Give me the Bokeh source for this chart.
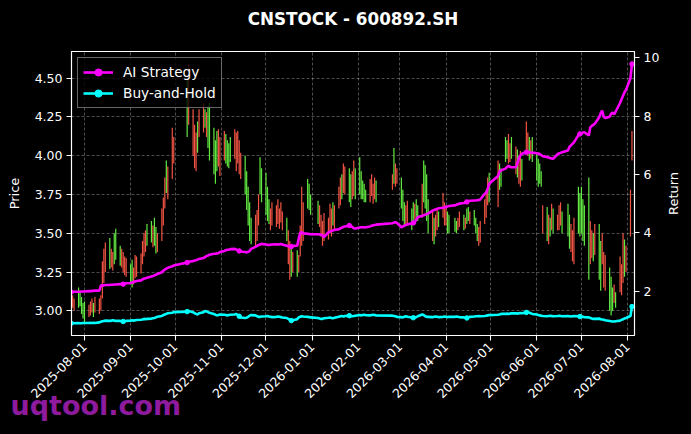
import math
import pandas as pd
from bokeh.plotting import figure
from bokeh.models import (Range1d, LinearAxis, FixedTicker, DatetimeTickFormatter, Title, Label,
                          NumeralTickFormatter, Legend, LegendItem, ColumnDataSource)
from bokeh.embed import file_html
from bokeh.resources import INLINE

TITLE = "CNSTOCK - 600892.SH"
WATERMARK = "uqtool.com"
START, END = "2025-07-23", "2026-08-04"
HOLIDAYS = ["2025-10-01", "2025-10-02", "2025-10-03", "2025-10-06", "2025-10-07", "2025-10-08",
            "2026-01-01", "2026-01-02", "2026-02-16", "2026-02-17", "2026-02-18", "2026-02-19",
            "2026-02-20", "2026-02-23", "2026-04-06", "2026-05-01", "2026-05-04", "2026-05-05",
            "2026-06-19"]
XTICKS = ["2025-08-01", "2025-09-01", "2025-10-01", "2025-11-01", "2025-12-01", "2026-01-01",
          "2026-02-01", "2026-03-01", "2026-04-01", "2026-05-01", "2026-06-01", "2026-07-01",
          "2026-08-01"]
PRICE_TICKS = [3.00, 3.25, 3.50, 3.75, 4.00, 4.25, 4.50]
RETURN_TICKS = [2, 4, 6, 8, 10]

# daily candle highs / lows (one per trading day), month by month
HIGH = [
    3.12, 3.10, 3.08, 3.15, 3.13, 3.09, 3.05,
    3.06, 3.04, 3.06, 3.08, 3.05, 3.09, 3.08, 3.10, 3.32, 3.40, 3.44, 3.47, 3.40, 3.38, 3.50, 3.53, 3.42, 3.40, 3.38, 3.35, 3.34,
    3.30, 3.33, 3.28, 3.36, 3.35, 3.37, 3.45, 3.50, 3.52, 3.56, 3.58, 3.55, 3.60, 3.54, 3.50, 3.66, 3.73, 3.86, 3.97, 3.93, 4.18, 4.12,
    4.50, 4.59, 4.30, 4.20, 4.15, 4.22, 4.30, 4.34, 4.30, 4.28, 4.32, 4.34, 4.18, 4.10, 4.16, 4.17, 4.12,
    4.16, 4.14, 4.10, 4.08, 4.12, 4.17, 4.15, 4.16, 4.10, 4.02, 4.00, 3.90, 3.80, 3.70, 3.60, 3.62, 3.65, 3.75, 3.99, 3.92,
    3.89, 3.80, 3.72, 3.66, 3.70, 3.68, 3.72, 3.66, 3.70, 3.64, 3.60, 3.52, 3.45, 3.40, 3.38, 3.39, 3.36, 3.55, 3.80, 3.70, 3.85, 3.82, 3.75,
    3.71, 3.68, 3.62, 3.58, 3.63, 3.60, 3.69, 3.66, 3.70, 3.68, 3.80, 3.86, 3.88, 3.95, 3.93, 3.92, 3.88, 3.90, 3.97, 3.92,
    3.99, 3.90, 3.84, 3.82, 3.78, 3.85, 3.88, 3.82, 3.86, 3.84, 3.88, 4.05, 3.95, 3.92,
    3.86, 3.78, 3.70, 3.68, 3.71, 3.66, 3.70, 3.69, 3.72, 3.68, 3.82, 3.97, 3.94, 3.88, 3.72, 3.65, 3.60, 3.62, 3.66, 3.64, 3.76, 3.70,
    3.68, 3.64, 3.62, 3.60, 3.58, 3.60, 3.64, 3.62, 3.60, 3.66, 3.67, 3.64, 3.65, 3.60, 3.56, 3.54, 3.58, 3.72, 3.78, 3.86, 3.89,
    3.97, 3.95, 3.92, 4.12, 4.10, 4.14, 4.08, 4.12, 4.06, 4.04, 4.00, 4.03, 3.98, 4.22, 4.15, 4.12, 4.10, 4.12,
    4.01, 3.98, 3.95, 3.90, 3.68, 3.67, 3.62, 3.60, 3.69, 3.66, 3.62, 3.68, 3.70, 3.64, 3.69, 3.62, 3.56, 3.52, 3.60, 3.80, 3.76,
    3.80, 3.72, 3.68, 3.86, 3.58, 3.52, 3.50, 3.56, 3.56, 3.45, 3.50, 3.38, 3.36, 3.28, 3.22, 3.15, 3.17, 3.12, 3.35, 3.30, 3.50, 3.46, 3.42,
    3.78, 4.16,
]
LOW = [
    3.04, 3.02, 3.00, 3.02, 3.03, 2.98, 2.95,
    2.92, 2.96, 2.97, 2.99, 2.96, 2.99, 2.98, 3.00, 3.08, 3.18, 3.25, 3.27, 3.28, 3.26, 3.30, 3.33, 3.29, 3.28, 3.25, 3.23, 3.22,
    3.18, 3.15, 3.17, 3.21, 3.22, 3.24, 3.30, 3.35, 3.38, 3.42, 3.44, 3.41, 3.42, 3.37, 3.38, 3.45, 3.55, 3.66, 3.76, 3.72, 3.85, 3.95,
    4.12, 4.20, 4.00, 3.92, 3.90, 4.02, 4.12, 4.15, 4.18, 4.12, 4.05, 3.97, 3.88, 3.82, 3.90, 3.93, 3.87,
    3.97, 3.95, 3.93, 3.92, 3.96, 3.98, 3.90, 3.95, 3.88, 3.85, 3.75, 3.65, 3.55, 3.45, 3.43, 3.41, 3.45, 3.55, 3.75, 3.70,
    3.62, 3.58, 3.56, 3.52, 3.55, 3.54, 3.56, 3.53, 3.57, 3.52, 3.45, 3.30, 3.20, 3.22, 3.25, 3.22, 3.25, 3.35, 3.42, 3.45, 3.66, 3.65, 3.62,
    3.56, 3.54, 3.48, 3.42, 3.45, 3.46, 3.50, 3.48, 3.55, 3.52, 3.66, 3.68, 3.72, 3.76, 3.75, 3.70, 3.67, 3.72, 3.74, 3.72,
    3.75, 3.72, 3.72, 3.70, 3.70, 3.70, 3.74, 3.69, 3.72, 3.70, 3.78, 3.82, 3.80, 3.82,
    3.66, 3.58, 3.54, 3.55, 3.56, 3.52, 3.58, 3.59, 3.60, 3.58, 3.60, 3.70, 3.66, 3.58, 3.50, 3.45, 3.43, 3.48, 3.52, 3.54, 3.60, 3.55,
    3.55, 3.50, 3.50, 3.51, 3.50, 3.52, 3.54, 3.52, 3.53, 3.56, 3.58, 3.56, 3.55, 3.50, 3.45, 3.42, 3.44, 3.56, 3.60, 3.68, 3.70,
    3.67, 3.78, 3.80, 3.96, 3.98, 3.95, 3.96, 3.98, 3.88, 3.86, 3.82, 3.80, 3.84, 4.03, 4.00, 3.97, 3.98, 3.96,
    3.84, 3.80, 3.82, 3.80, 3.50, 3.45, 3.43, 3.48, 3.52, 3.50, 3.52, 3.52, 3.55, 3.50, 3.48, 3.40, 3.38, 3.32, 3.30, 3.50, 3.48,
    3.50, 3.45, 3.42, 3.20, 3.30, 3.34, 3.32, 3.36, 3.20, 3.13, 3.30, 3.15, 3.13, 3.00, 2.97, 3.00, 3.05, 3.02, 3.12, 3.10, 3.18, 3.22, 3.25,
    3.48, 3.97,
]
# candle colour per trading day: g = green, r = red
CANDLE_COLOR = ("rrrgggg"
                "grrrgrrrrrrgrrgggrrrr"
                "ggrrrrrrrggrggrrrrgrrr"
                "grrrrgrrgrgggggrr"
                "rggggrrrrrgggggrrrgg"
                "gggrrrrrrrgrrgrgrrrrggg"
                "grrrrrrrgrrrgrrggrrg"
                "gggggrrrrgrgrr"
                "gggrrggrggrggggrgrrgrr"
                "rggggrrgrggrgggrrrrrg"
                "rggggrrgrgrrgrrgrg"
                "ggggrgrgrgrrrgggrrrgg"
                "ggggrrgrggrrrgggrgrrrgr"
                "rr")

# strategy curves (one value per trading day)
AI_RETURN = [
    1.97, 1.97, 1.98, 1.98, 1.98, 1.99, 1.99,
    1.99, 2.00, 2.00, 2.01, 2.01, 2.02, 2.02, 2.19, 2.20, 2.20, 2.21, 2.21, 2.22, 2.22, 2.23, 2.23, 2.24, 2.25, 2.24, 2.26, 2.27,
    2.28, 2.30, 2.31, 2.33, 2.35, 2.37, 2.40, 2.43, 2.44, 2.46, 2.50, 2.52, 2.54, 2.56, 2.59, 2.65, 2.70, 2.74, 2.77, 2.80, 2.85, 2.88,
    2.98, 3.01, 3.03, 3.05, 3.06, 3.08, 3.10, 3.14, 3.17, 3.20, 3.22, 3.25, 3.28, 3.28, 3.29, 3.30, 3.34,
    3.38, 3.40, 3.42, 3.42, 3.44, 3.45, 3.43, 3.40, 3.38, 3.36, 3.34, 3.33, 3.35, 3.38, 3.45, 3.52, 3.55, 3.58, 3.60, 3.62,
    3.60, 3.59, 3.58, 3.59, 3.60, 3.61, 3.60, 3.61, 3.62, 3.60, 3.56, 3.54, 3.52, 3.53, 3.55, 3.56, 3.80, 4.00, 4.02, 3.98, 3.97, 3.96, 3.95,
    3.95, 3.94, 3.93, 3.92, 3.85, 4.02, 4.04, 4.06, 4.08, 4.10, 4.12, 4.15, 4.18, 4.20, 4.22, 4.25, 4.24, 4.20, 4.16, 4.15,
    4.18, 4.19, 4.19, 4.18, 4.19, 4.22, 4.24, 4.26, 4.27, 4.28, 4.33, 4.35, 4.36, 4.34,
    4.19, 4.22, 4.25, 4.27, 4.29, 4.32, 4.34, 4.36, 4.45, 4.54, 4.58, 4.60, 4.62, 4.64, 4.66, 4.76, 4.78, 4.80, 4.82, 4.84, 4.86, 4.88,
    4.88, 4.90, 4.92, 4.94, 4.96, 4.98, 5.00, 5.02, 5.05, 5.06, 5.08, 5.10, 5.11, 5.11, 5.12, 5.12, 5.14, 5.34, 5.36, 5.50, 5.68,
    5.95, 6.10, 6.14, 6.20, 6.25, 6.30, 6.26, 6.25, 6.25, 6.40, 6.55, 6.65, 6.71, 6.76, 6.78, 6.76, 6.74, 6.75,
    6.73, 6.72, 6.70, 6.66, 6.63, 6.60, 6.58, 6.56, 6.55, 6.54, 6.70, 6.72, 6.74, 6.76, 6.82, 6.95, 7.00, 7.05, 7.10, 7.35, 7.39,
    7.40, 7.44, 7.45, 7.34, 7.62, 7.66, 7.70, 7.74, 7.96, 8.10, 8.19, 7.98, 7.94, 7.98, 8.08, 8.12, 8.06, 8.15, 8.45, 8.58, 8.70, 8.82, 8.90,
    9.30, 9.79,
]
BH_RETURN = [
    0.90, 0.91, 0.90, 0.91, 0.90, 0.90, 0.91,
    0.91, 0.91, 0.92, 0.91, 0.92, 0.91, 0.93, 0.95, 0.97, 0.98, 0.99, 0.98, 0.99, 1.00, 0.99, 0.98, 0.98, 0.97, 0.96, 0.97, 0.98,
    0.99, 1.00, 0.99, 1.00, 1.01, 1.02, 1.03, 1.05, 1.04, 1.05, 1.06, 1.07, 1.08, 1.10, 1.12, 1.15, 1.18, 1.20, 1.22, 1.24, 1.26, 1.28,
    1.30, 1.32, 1.28, 1.24, 1.22, 1.20, 1.24, 1.28, 1.32, 1.30, 1.28, 1.26, 1.22, 1.19, 1.17, 1.18, 1.20,
    1.19, 1.18, 1.17, 1.18, 1.19, 1.20, 1.22, 1.18, 1.14, 1.10, 1.08, 1.09, 1.12, 1.16, 1.18, 1.17, 1.14, 1.12, 1.12, 1.13,
    1.14, 1.15, 1.13, 1.12, 1.11, 1.12, 1.13, 1.12, 1.11, 1.10, 1.08, 1.05, 1.02, 0.99, 1.00, 1.04, 1.10, 1.12, 1.14, 1.13, 1.12, 1.11, 1.10,
    1.08, 1.06, 1.05, 1.05, 1.07, 1.09, 1.10, 1.08, 1.07, 1.09, 1.12, 1.14, 1.15, 1.13, 1.15, 1.16, 1.14, 1.14, 1.15, 1.16,
    1.18, 1.17, 1.18, 1.19, 1.18, 1.17, 1.18, 1.19, 1.18, 1.17, 1.16, 1.15, 1.14, 1.12,
    1.11, 1.10, 1.12, 1.14, 1.12, 1.10, 1.09, 1.08, 1.11, 1.14, 1.20, 1.18, 1.14, 1.12, 1.12, 1.11, 1.12, 1.13, 1.12, 1.11, 1.12, 1.13,
    1.12, 1.11, 1.12, 1.12, 1.13, 1.12, 1.11, 1.10, 1.09, 1.08, 1.10, 1.12, 1.13, 1.14, 1.14, 1.15, 1.14, 1.15, 1.16, 1.17, 1.18,
    1.19, 1.20, 1.22, 1.22, 1.23, 1.22, 1.23, 1.24, 1.24, 1.23, 1.24, 1.25, 1.24, 1.27, 1.29, 1.26, 1.24, 1.22,
    1.20, 1.18, 1.17, 1.16, 1.15, 1.14, 1.15, 1.16, 1.15, 1.14, 1.15, 1.16, 1.15, 1.14, 1.15, 1.14, 1.13, 1.14, 1.15, 1.14, 1.13,
    1.12, 1.12, 1.11, 1.10, 1.08, 1.06, 1.05, 1.05, 1.06, 1.04, 1.03, 1.02, 1.00, 0.98, 0.97, 0.96, 0.96, 0.97, 0.99, 1.02, 1.04, 1.06, 1.08,
    1.15, 1.47,
]
MARK_EVERY = 25

# ---------------------------------------------------------------- build
dates = pd.bdate_range(START, END)
dates = dates[~dates.isin(pd.to_datetime(HOLIDAYS))]
n = min(len(dates), len(HIGH), len(LOW), len(AI_RETURN), len(BH_RETURN))
dates = dates[:n]
cc = (CANDLE_COLOR + "r" * n)[:n]
colors = ["#66f544" if c == "g" else "#ff5848" for c in cc]

candles = ColumnDataSource(dict(x=dates, hi=HIGH[:n], lo=LOW[:n], c=colors))
lines = ColumnDataSource(dict(x=dates, ai=AI_RETURN[:n], bh=BH_RETURN[:n]))
idx = list(range(0, n, MARK_EVERY))
marks = ColumnDataSource(dict(x=[dates[i] for i in idx], ai=[AI_RETURN[i] for i in idx],
                              bh=[BH_RETURN[i] for i in idx]))

FONT = "DejaVu Sans"
x0 = pd.Timestamp("2025-07-23 06:15")
x1 = pd.Timestamp("2026-08-05 17:00")

p = figure(width=691, height=434, x_axis_type="datetime", output_backend="svg",
           toolbar_location=None, x_range=Range1d(x0, x1), y_range=Range1d(2.841, 4.672),
           min_border_left=71, min_border_right=57, min_border_top=51, min_border_bottom=99)
p.background_fill_color = "black"
p.border_fill_color = "black"
p.outline_line_color = "white"
p.outline_line_width = 1.1

# spacer between frame and title (keeps the title near the top edge)
p.add_layout(Title(text=" ", text_font=FONT, text_font_size="16.8px", text_font_style="bold",
                   standoff=-1), "above")
p.title.text = TITLE
p.title.align = "center"
p.title.vertical_align = "top"
p.title.text_color = "white"
p.title.text_font = FONT
p.title.text_font_size = "16.8px"
p.title.text_font_style = "bold"
p.title.standoff = 0

p.extra_y_ranges = {"ret": Range1d(0.48, 10.216)}
raxis = LinearAxis(y_range_name="ret")
p.add_layout(raxis, "right")

for ax in [p.xaxis[0], p.yaxis[0], raxis]:
    ax.axis_line_color = "white"
    ax.axis_line_width = 1.1
    ax.major_tick_line_color = "white"
    ax.major_tick_line_width = 1.1
    ax.major_tick_out = 5
    ax.major_tick_in = 0
    ax.minor_tick_line_color = None
    ax.major_label_text_color = "white"
    ax.major_label_text_font = FONT
    ax.major_label_text_font_size = "12.5px"
    ax.major_label_standoff = 4
    ax.axis_label_text_color = "white"
    ax.axis_label_text_font = FONT
    ax.axis_label_text_font_size = "13px"
    ax.axis_label_text_font_style = "normal"

p.xaxis[0].ticker = FixedTicker(ticks=[pd.Timestamp(t).value / 1e6 for t in XTICKS])
p.xaxis[0].formatter = DatetimeTickFormatter(days="%Y-%m-%d", months="%Y-%m-%d", years="%Y-%m-%d")
p.xaxis[0].major_label_orientation = math.pi / 4
p.yaxis[0].ticker = FixedTicker(ticks=PRICE_TICKS)
p.yaxis[0].formatter = NumeralTickFormatter(format="0.00")
p.yaxis[0].axis_label = "Price"
p.yaxis[0].axis_label_standoff = 10
raxis.ticker = FixedTicker(ticks=RETURN_TICKS)
raxis.formatter = NumeralTickFormatter(format="0")

p.add_layout(Label(x=11, y=142, x_units="screen", y_units="screen", text="Return",
                   angle=math.pi / 2, text_align="center", text_baseline="middle",
                   text_color="white", text_font=FONT, text_font_size="13px"), "right")

for g in [p.xgrid[0], p.ygrid[0]]:
    g.grid_line_color = "white"
    g.grid_line_alpha = 0.3
    g.grid_line_dash = "3 2"
    g.grid_line_width = 1

p.segment(x0="x", y0="lo", x1="x", y1="hi", color="c", line_width=1.2, line_alpha=0.95, source=candles)

AI_C, BH_C = "#ff00ff", "#00ffff"
ai_l = p.line("x", "ai", source=lines, color=AI_C, line_width=2.6, y_range_name="ret")
ai_m = p.scatter("x", "ai", source=marks, color=AI_C, size=4.5, y_range_name="ret")
bh_l = p.line("x", "bh", source=lines, color=BH_C, line_width=2.6, y_range_name="ret")
bh_m = p.scatter("x", "bh", source=marks, color=BH_C, size=4.5, y_range_name="ret")

legend = Legend(items=[LegendItem(label="AI Strategy", renderers=[ai_l, ai_m]),
                       LegendItem(label="Buy-and-Hold", renderers=[bh_l, bh_m])],
                location="top_left", margin=6, padding=5, spacing=3,
                glyph_width=30, glyph_height=18, label_height=18, label_standoff=10,
                label_text_color="white", label_text_font=FONT, label_text_font_size="13.7px",
                background_fill_color="black", background_fill_alpha=0.8,
                border_line_color="#cccccc", border_line_width=1)
p.add_layout(legend)

wm = Title(text=WATERMARK, align="left", vertical_align="top", offset=-61, standoff=-32,
           text_color="#8e1a9e", text_alpha=1.0, text_font=FONT, text_font_size="27px",
           text_font_style="bold")
p.add_layout(wm, "below")

html = file_html(p, INLINE, title=TITLE)
html = html.replace("</head>", "<style>html,body{background:#000;}</style></head>", 1)
open("out.html", "w").write(html)
